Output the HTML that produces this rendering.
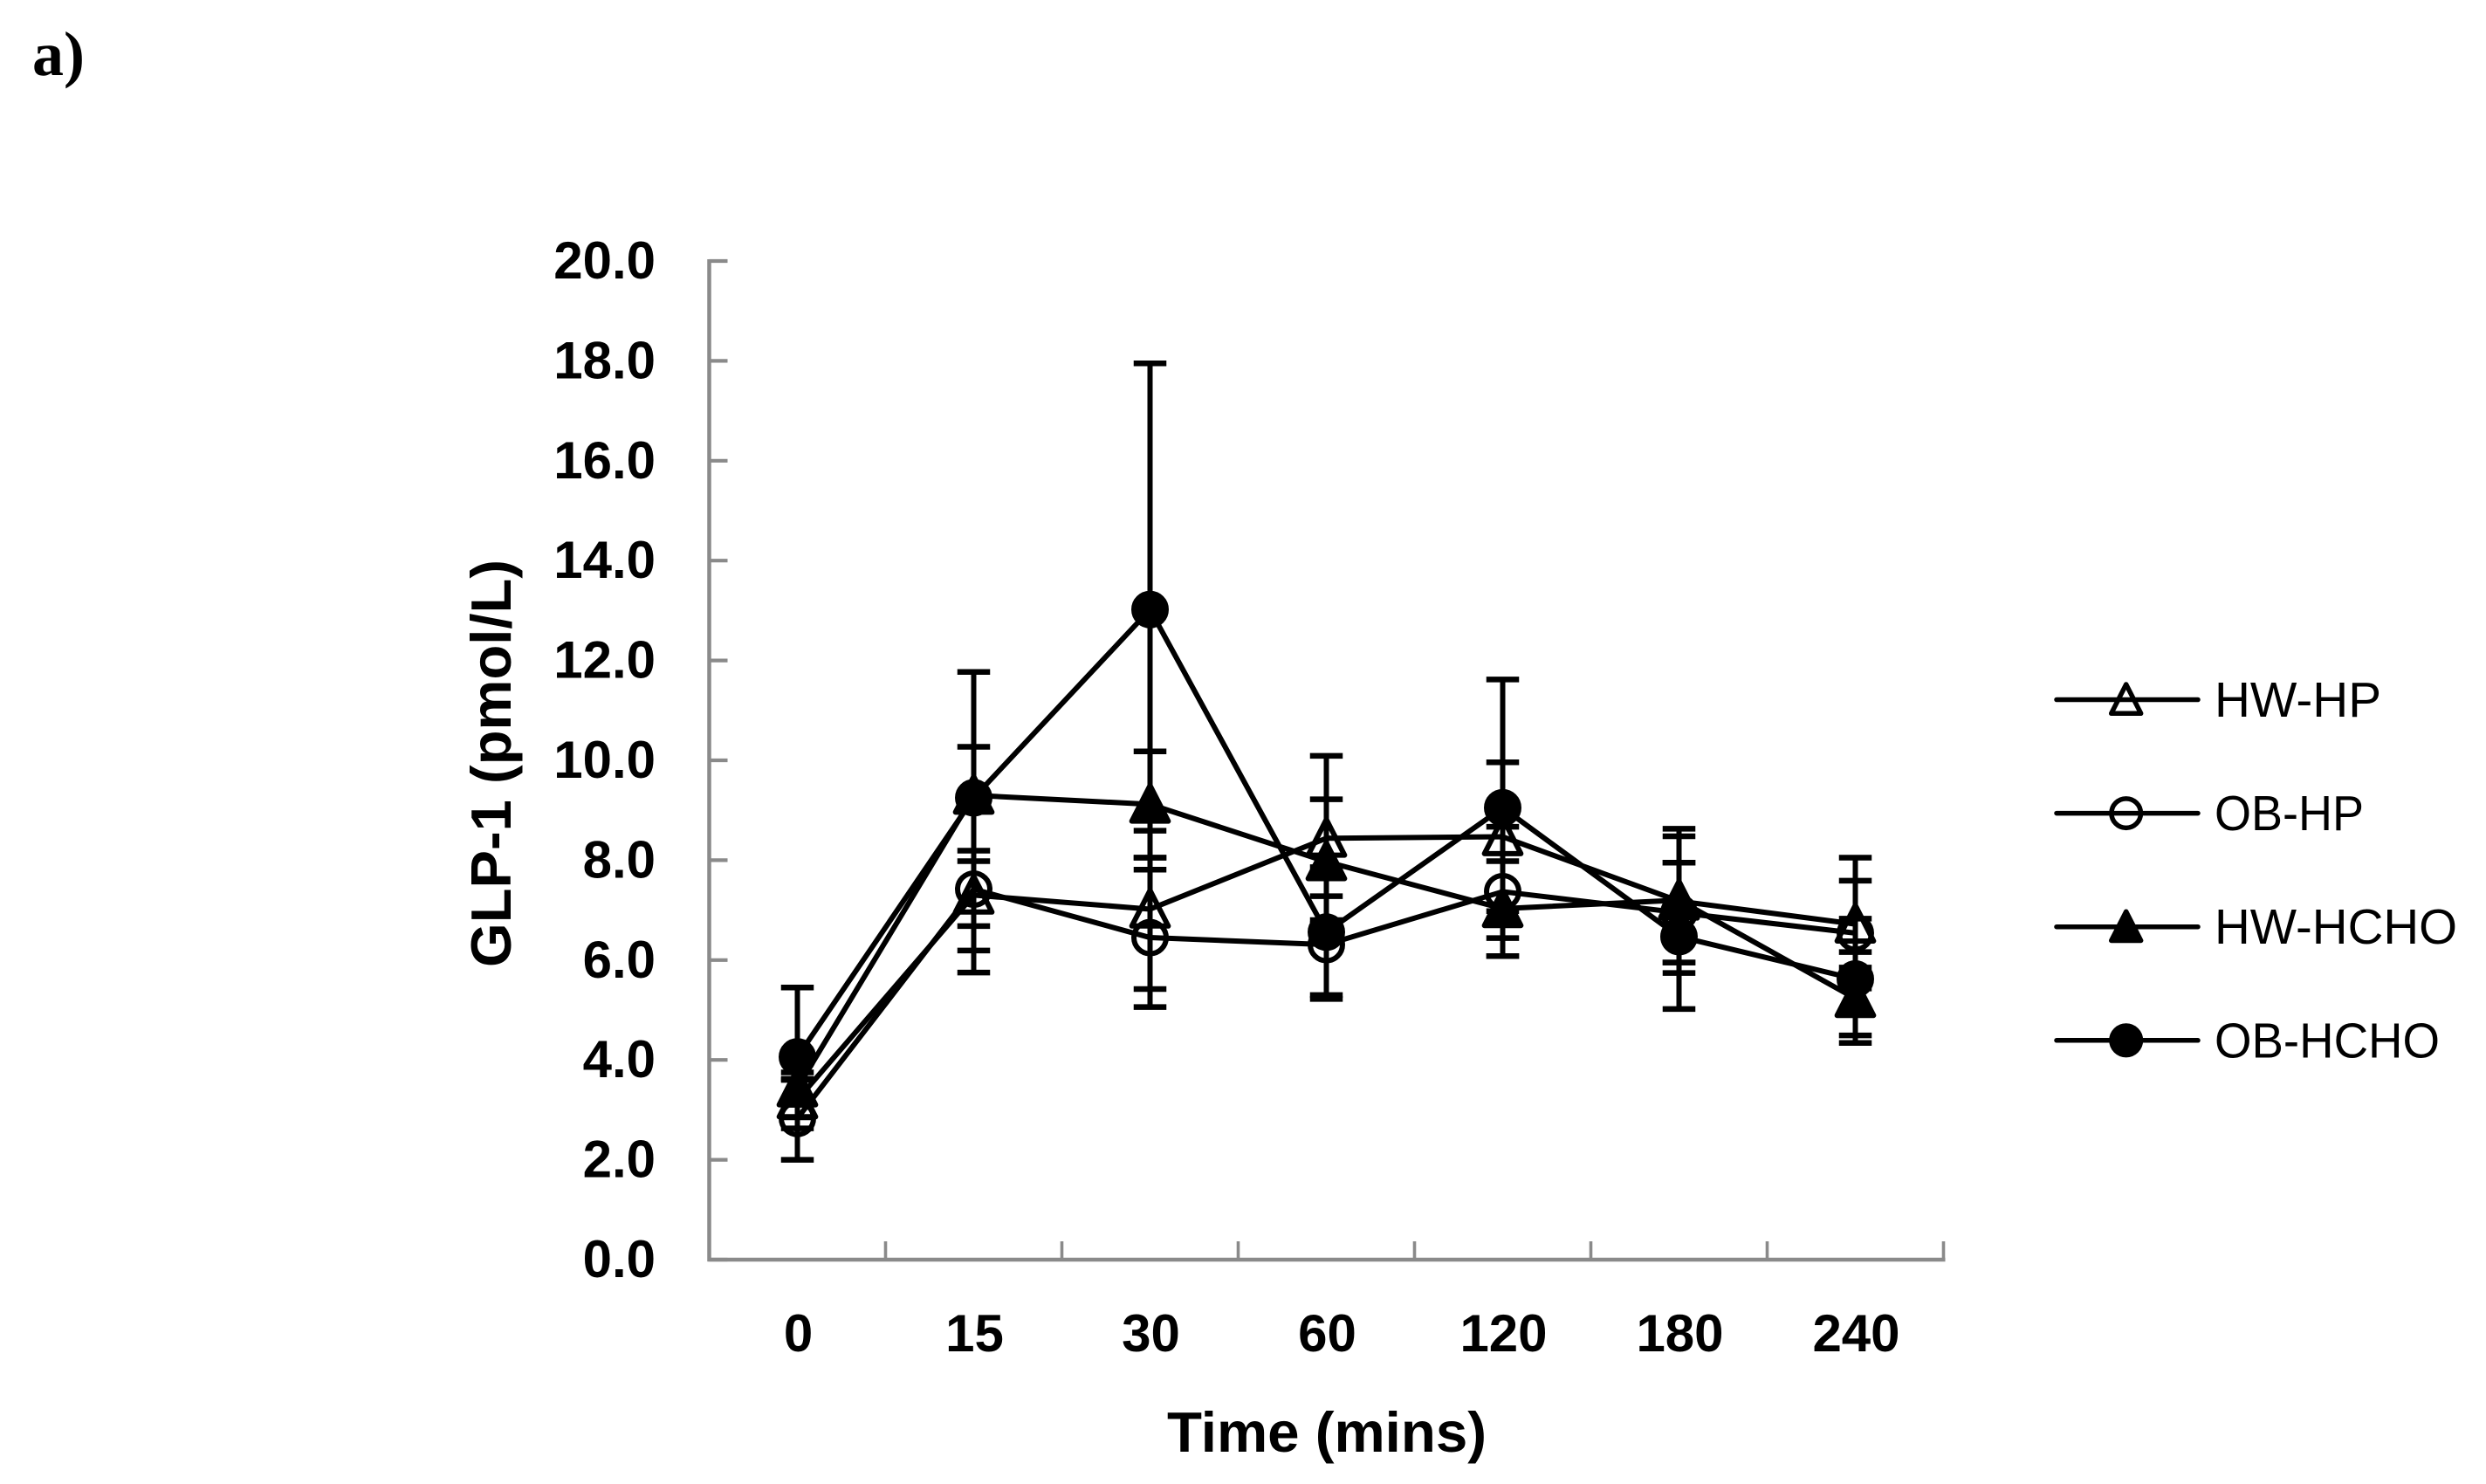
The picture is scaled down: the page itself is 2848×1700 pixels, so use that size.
<!DOCTYPE html>
<html lang="en">
<head>
<meta charset="utf-8">
<title>GLP-1 time course</title>
<style>
  html, body { margin: 0; padding: 0; background: #fff; }
  svg { display: block; }
  text { fill: #000; font-family: "Liberation Sans", sans-serif; }
</style>
</head>
<body>
<svg id="chart" xmlns="http://www.w3.org/2000/svg" width="2848" height="1700" viewBox="0 0 2848 1700">
  <rect x="0" y="0" width="2848" height="1700" fill="#ffffff"/>
  <text x="37" y="86" style="font-family:'Liberation Serif',serif;font-weight:700;font-size:72px">a)</text>
  <text transform="translate(585 874.5) rotate(-90)" text-anchor="middle" textLength="467" lengthAdjust="spacingAndGlyphs" style="font-weight:700;font-size:65px">GLP-1 (pmol/L)</text>
  <text x="1520" y="1663" text-anchor="middle" textLength="366" lengthAdjust="spacingAndGlyphs" style="font-weight:700;font-size:65px">Time (mins)</text>
  <g id="axes"></g>
  <g id="series"></g>
  <g id="legend"></g>
</svg>
<script>
const categories = ['0', '15', '30', '60', '120', '180', '240'];
const yTickValues = [0, 2, 4, 6, 8, 10, 12, 14, 16, 18, 20];

const hwHpValues   = [3.20, 7.30, 7.02, 8.44, 8.47, 7.18, 6.72];
const hwHpUpper    = [3.60, 7.98, 8.59, 10.09, 9.96, 8.48, 7.59];
const hwHpLower    = [2.85, 6.19, 5.42, 6.80, 6.98, 5.95, 5.85];

const obHpValues   = [2.83, 7.42, 6.45, 6.31, 7.37, 6.95, 6.54];
const obHpUpper    = [3.62, 9.09, 7.81, 7.28, 8.67, 7.95, 8.05];
const obHpLower    = [2.00, 5.75, 5.06, 5.30, 6.08, 5.95, 5.43];

const hwHchoValues = [3.44, 9.30, 9.12, 7.97, 7.03, 7.20, 5.23];
const hwHchoUpper  = [3.75, 10.27, 10.18, 9.22, 7.98, 8.63, 6.16];
const hwHchoLower  = [3.10, 8.19, 8.05, 6.72, 6.08, 5.74, 4.34];

const obHchoValues = [4.06, 9.25, 13.02, 6.56, 9.05, 6.47, 5.62];
const obHchoUpper  = [5.45, 11.77, 17.95, 7.86, 11.62, 7.95, 6.83];
const obHchoLower  = [2.63, 6.68, 8.05, 5.22, 6.44, 5.02, 4.49];

const seriesNames = ['HW-HP', 'OB-HP', 'HW-HCHO', 'OB-HCHO'];

const NS = 'http://www.w3.org/2000/svg';
const plotLeft = 812.5, plotRight = 2226.5, plotBottom = 1443, plotTop = 299;
const yMax = 20;
const axisColor = '#8a8a8a';

function xScale(i) { return plotLeft + (i + 0.5) * (plotRight - plotLeft) / categories.length; }
function yScale(v) { return plotBottom - v / yMax * (plotBottom - plotTop); }

function make(tag, parent, props) {
  const el = document.createElementNS(NS, tag);
  for (const k in props) el.setAttribute(k, props[k]);
  parent.appendChild(el);
  return el;
}

function drawMarker(parent, shape, filled, cx, cy, size, sw) {
  const fill = filled ? '#000' : 'none';
  if (shape === 'circle') {
    return make('circle', parent, { cx: cx, cy: cy, r: size * 0.86, fill: fill, stroke: '#000', 'stroke-width': sw });
  }
  const pts = [[cx, cy - size], [cx + size * 0.97, cy + size * 0.9], [cx - size * 0.97, cy + size * 0.9]];
  return make('polygon', parent, { points: pts.map(p => p.join(',')).join(' '), fill: fill, stroke: '#000', 'stroke-width': sw, 'stroke-linejoin': 'round' });
}

const axes = document.getElementById('axes');
const yAxisLine = make('line', axes, { x1: plotLeft, x2: plotLeft, y1: plotTop - 2, y2: plotBottom + 2, stroke: axisColor, 'stroke-width': 4.5 });


const xAxisLine = make('line', axes, { x1: plotLeft - 2, x2: plotRight + 2, y1: plotBottom, y2: plotBottom, stroke: axisColor, 'stroke-width': 4.5 });



yTickValues.forEach(function (v) {
  const t = make('line', axes, { x1: plotLeft, x2: plotLeft + 21, y1: yScale(v), y2: yScale(v), stroke: axisColor, 'stroke-width': 4.2 });
  
  
  const l = make('text', axes, { x: 751, y: yScale(v) + 20, 'text-anchor': 'end', style: 'font-weight:700;font-size:60px' });
  l.textContent = v.toFixed(1);
  
  
});

for (let i = 0; i <= categories.length; i++) {
  const x = plotLeft + i * (plotRight - plotLeft) / categories.length;
  const t = make('line', axes, { x1: x, x2: x, y1: plotBottom, y2: plotBottom - 21, stroke: axisColor, 'stroke-width': 3.6 });
  
  
}
categories.forEach(function (c, i) {
  const l = make('text', axes, { x: xScale(i) + 1, y: 1548, 'text-anchor': 'middle', style: 'font-weight:700;font-size:60px' });
  l.textContent = c;
  
  
});

const seriesList = [
  { name: seriesNames[0], values: hwHpValues, upper: hwHpUpper, lower: hwHpLower, shape: 'triangle', filled: false },
  { name: seriesNames[1], values: obHpValues, upper: obHpUpper, lower: obHpLower, shape: 'circle', filled: false },
  { name: seriesNames[2], values: hwHchoValues, upper: hwHchoUpper, lower: hwHchoLower, shape: 'triangle', filled: true },
  { name: seriesNames[3], values: obHchoValues, upper: obHchoUpper, lower: obHchoLower, shape: 'circle', filled: true }
];

const seriesRoot = document.getElementById('series');
seriesList.forEach(function (s) {
  const g = make('g', seriesRoot, {});
  
  

  s.values.forEach(function (v, i) {
    const x = xScale(i);
    const stem = make('line', g, { x1: x, x2: x, y1: yScale(s.upper[i]), y2: yScale(s.lower[i]), stroke: '#000', 'stroke-width': 6 });
    
    
    [s.upper[i], s.lower[i]].forEach(function (e) {
      const cap = make('line', g, { x1: x - 18.75, x2: x + 18.75, y1: yScale(e), y2: yScale(e), stroke: '#000', 'stroke-width': 6.5 });
      
      
    });
  });

  const line = make('polyline', g, {
    points: s.values.map(function (v, i) { return xScale(i) + ',' + yScale(v); }).join(' '),
    fill: 'none', stroke: '#000', 'stroke-width': 6, 'stroke-linejoin': 'round'
  });
  
  

  s.values.forEach(function (v, i) {
    const m = drawMarker(g, s.shape, s.filled, xScale(i), yScale(v), 21.5, 6);
    
    
  });
});

const legendRoot = document.getElementById('legend');
const legendTop = 801.5, legendStep = 130.1;
const legendTextLengths = [191, 171, 278, 258];
seriesList.forEach(function (s, i) {
  const y = legendTop + i * legendStep;
  const g = make('g', legendRoot, {});
  
  
  const key = make('line', g, { x1: 2356, x2: 2518, y1: y, y2: y, stroke: '#000', 'stroke-width': 5.5, 'stroke-linecap': 'round' });
  
  
  const m = drawMarker(g, s.shape, s.filled, 2435.7, y, s.shape === 'circle' ? 19.5 : 17.5, 5.5);
  
  
  const label = make('text', g, { x: 2537, y: y + 19.5, textLength: legendTextLengths[i], lengthAdjust: 'spacingAndGlyphs', style: 'font-size:57px' });
  label.textContent = s.name;
  
  
});
</script>
</body>
</html>
